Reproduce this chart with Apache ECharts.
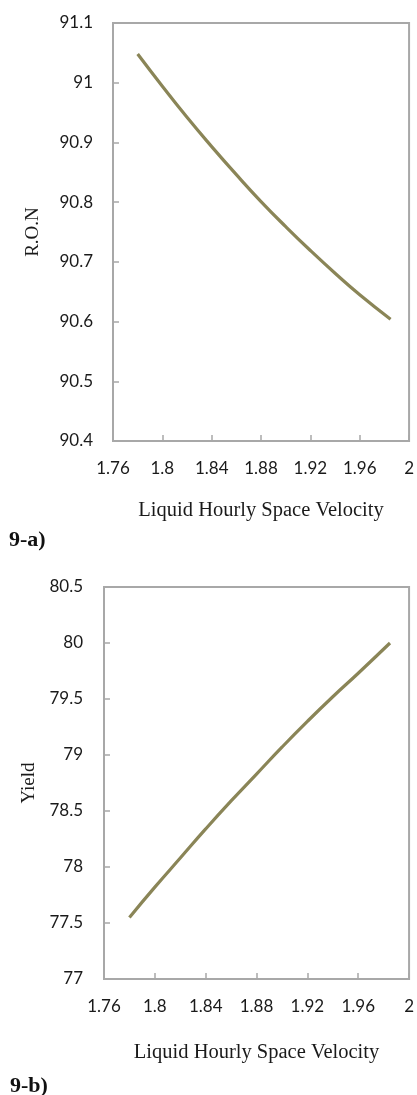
<!DOCTYPE html>
<html>
<head>
<meta charset="utf-8">
<title>LHSV effect on R.O.N and Yield</title>
<script src="https://cdn.jsdelivr.net/npm/echarts@6/dist/echarts.min.js"></script>
<style>
  html, body { margin: 0; padding: 0; background: #ffffff; }
  #chart { width: 417px; height: 1095px; }
</style>
</head>
<body>
<div id="chart"></div>
<script>
// Liquid hourly space velocity (x values shared by both panels)
const lhsv = [1.78, 1.80, 1.82, 1.84, 1.86, 1.88, 1.90, 1.92, 1.94, 1.96, 1.985];
// Research octane number vs LHSV (panel 9-a)
const ron = [91.048, 90.994, 90.942, 90.893, 90.846, 90.801, 90.759, 90.719, 90.681, 90.645, 90.604];
// Product yield vs LHSV (panel 9-b)
const yieldValues = [77.55, 77.82, 78.08, 78.34, 78.59, 78.83, 79.07, 79.30, 79.52, 79.73, 80.0];

// Axis tick ranges
const xTicks = { min: 1.76, max: 2.0, step: 0.04 };
const ronTicks = { min: 90.4, max: 91.1, step: 0.1 };
const yieldTicks = { min: 77, max: 80.5, step: 0.5 };

const xTitle = 'Liquid Hourly Space Velocity';
const panelLabels = ['9-a)', '9-b)'];
const yTitles = ['R.O.N', 'Yield'];

const frameColor = '#a8a8a8';
const lineColor = '#8a8557';
const sansFont = 'Lato, "Open Sans", sans-serif';
const serifFont = '"Liberation Serif", "DejaVu Serif", serif';

const trim = v => String(parseFloat(v.toFixed(2)));

function xAxisFor(gridIndex, nameGap) {
  return {
    type: 'value', gridIndex,
    min: xTicks.min, max: xTicks.max, interval: xTicks.step,
    name: xTitle, nameLocation: 'middle', nameGap,
    nameTextStyle: { fontFamily: serifFont, fontSize: 20.5, color: '#1a1a1a' },
    axisLine: { show: true, lineStyle: { color: frameColor, width: 2 } },
    axisTick: { show: true, inside: true, length: 6, lineStyle: { color: frameColor, width: 1.5 } },
    axisLabel: { margin: 19, fontFamily: sansFont, fontSize: 17, color: '#1a1a1a', formatter: trim },
    splitLine: { show: false }
  };
}

function yAxisFor(gridIndex, ticks, name, nameGap, margin) {
  return {
    type: 'value', gridIndex,
    min: ticks.min, max: ticks.max, interval: ticks.step,
    name, nameLocation: 'middle', nameGap, nameRotate: 90,
    nameTextStyle: { fontFamily: serifFont, fontSize: 19, color: '#1a1a1a' },
    axisLine: { show: true, lineStyle: { color: frameColor, width: 2 } },
    axisTick: { show: true, inside: true, length: 6, lineStyle: { color: frameColor, width: 1.5 } },
    axisLabel: { margin, fontFamily: sansFont, fontSize: 17, color: '#1a1a1a', formatter: trim },
    splitLine: { show: false }
  };
}

const chart = echarts.init(document.getElementById('chart'), null, { renderer: 'canvas' });

chart.setOption({
  backgroundColor: '#ffffff',
  animation: false,
  title: [
    { text: panelLabels[0], left: 9, top: 529, padding: 0,
      textStyle: { fontFamily: serifFont, fontSize: 22, fontWeight: 'bold', color: '#111' } },
    { text: panelLabels[1], left: 10, top: 1075, padding: 0,
      textStyle: { fontFamily: serifFont, fontSize: 22, fontWeight: 'bold', color: '#111' } }
  ],
  grid: [
    { left: 113, top: 23, width: 297, height: 418, show: true,
      borderColor: frameColor, borderWidth: 2, backgroundColor: 'transparent' },
    { left: 104, top: 587, width: 309, height: 392, show: true,
      borderColor: frameColor, borderWidth: 2, backgroundColor: 'transparent' }
  ],
  xAxis: [ xAxisFor(0, 59), xAxisFor(1, 63) ],
  yAxis: [
    yAxisFor(0, ronTicks, yTitles[0], 70, 20),
    yAxisFor(1, yieldTicks, yTitles[1], 65, 21)
  ],
  series: [
    { type: 'line', xAxisIndex: 0, yAxisIndex: 0, smooth: true, symbol: 'none',
      lineStyle: { color: lineColor, width: 3.2 },
      data: lhsv.map((x, i) => [x, ron[i]]) },
    { type: 'line', xAxisIndex: 1, yAxisIndex: 1, smooth: true, symbol: 'none',
      lineStyle: { color: lineColor, width: 3.2 },
      data: lhsv.map((x, i) => [x, yieldValues[i]]) }
  ]
});
</script>
</body>
</html>
